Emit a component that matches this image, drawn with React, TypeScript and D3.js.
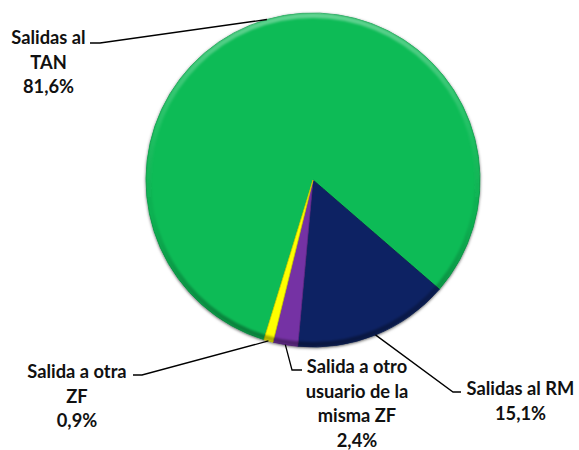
import React from "react";
import * as d3 from "d3";

const categories = ["Salidas al TAN", "Salidas al RM", "Salida a otro usuario de la misma ZF", "Salida a otra ZF"];
const values = [81.6, 15.1, 2.4, 0.9];
const valueLabels = ["81,6%", "15,1%", "2,4%", "0,9%"];
const labelLines = [["Salidas al", "TAN"], ["Salidas al RM"], ["Salida a otro", "usuario de la", "misma ZF"], ["Salida a otra", "ZF"]];
const colors = ["#0abb56", "#0b2464", "#7432a4", "#ffff00"];

// layout
const W = 579, H = 450;
const CX = 313, CY = 180, R = 167;
const START_DEG = -162.9;
const LINE_H = 24.5;
// label block: center x, first baseline, leader elbow & end
const labelLayout = [
  { x: 48.5, y: 44, elbow: [100, 43], end: [90, 43] },
  { x: 520.5, y: 395, elbow: [453, 392], end: [461, 392] },
  { x: 357, y: 373, elbow: [292, 370], end: [302, 370] },
  { x: 77, y: 378, elbow: [142, 375], end: [133, 375] },
];

export default function App() {
  const start = (START_DEG * Math.PI) / 180;
  const pie = d3.pie<number>().sort(null).startAngle(start).endAngle(start + 2 * Math.PI);
  const arcs = pie(values);
  const arc = d3.arc<d3.PieArcDatum<number>>().innerRadius(0).outerRadius(R);
  const rim = d3.arc().innerRadius(R - 5).outerRadius(R).startAngle(0).endAngle(2 * Math.PI);
  const font = "Lato, 'Open Sans', sans-serif";
  return (
    <svg width={W} height={H} style={{ position: "absolute", left: 0, top: 0 }}>
      <defs>
        <filter id="shadow" x="-10%" y="-10%" width="120%" height="120%">
          <feDropShadow dx="0" dy="1" stdDeviation="1.8" floodColor="#000" floodOpacity="0.55" />
        </filter>
        <linearGradient id="rimGrad" x1="0" y1="0" x2="0" y2="1">
          <stop offset="0" stopColor="#ffffff" stopOpacity="0.35" />
          <stop offset="0.35" stopColor="#ffffff" stopOpacity="0.08" />
          <stop offset="0.6" stopColor="#000000" stopOpacity="0.05" />
          <stop offset="1" stopColor="#000000" stopOpacity="0.35" />
        </linearGradient>
        <filter id="soft">
          <feGaussianBlur stdDeviation="0.8" />
        </filter>
      </defs>
      <g transform={`translate(${CX},${CY})`}>
        <g filter="url(#shadow)">
          {arcs.map((a, i) => (
            <path key={categories[i]} d={arc(a) || ""} fill={colors[i]} stroke={d3.color(colors[i])!.darker(0.6).toString()} strokeWidth={0.8} />
          ))}
        </g>
        <path d={(rim as any)() || ""} fill="url(#rimGrad)" filter="url(#soft)" />
      </g>
      {arcs.map((a, i) => {
        const mid = (a.startAngle + a.endAngle) / 2;
        const ax = CX + R * Math.sin(mid);
        const ay = CY - R * Math.cos(mid);
        const L = labelLayout[i];
        const lines = [...labelLines[i], valueLabels[i]];
        return (
          <g key={"lab" + i}>
            <polyline
              points={`${ax},${ay} ${L.elbow[0]},${L.elbow[1]} ${L.end[0]},${L.end[1]}`}
              fill="none"
              stroke="#000"
              strokeWidth={1.3}
            />
            <text fontFamily={font} fontWeight={700} fontSize={18.3} fill="#111" textAnchor="middle">
              {lines.map((t, j) => (
                <tspan key={j} x={L.x} y={L.y + j * LINE_H}>
                  {t}
                </tspan>
              ))}
            </text>
          </g>
        );
      })}
    </svg>
  );
}
